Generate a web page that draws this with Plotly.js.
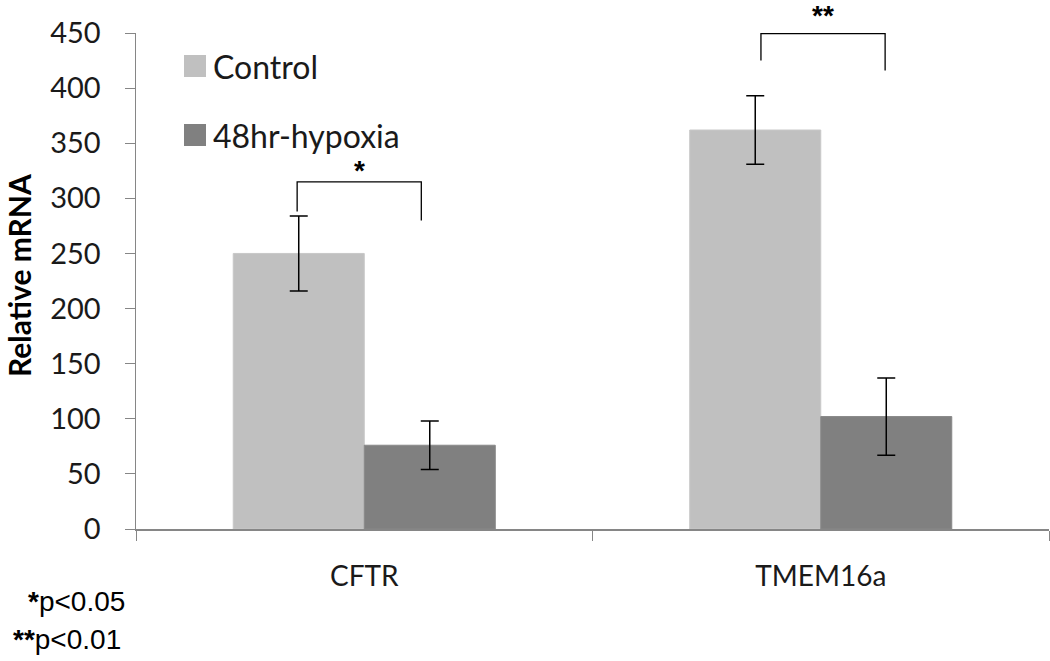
<!DOCTYPE html>
<html>
<head>
<meta charset="utf-8">
<script src="https://cdn.plot.ly/plotly-3.0.1.min.js"></script>
<style>html,body{margin:0;padding:0;background:#fff;}#chart{width:1050px;height:661px;}</style>
</head>
<body>
<div id="chart"></div>
<script>
const categories = ["CFTR", "TMEM16a"];
const seriesNames = ["Control", "48hr-hypoxia"];
const controlValues = [250, 362];
const controlErrors = [34, 31];
const hypoxiaValues = [76, 102];
const hypoxiaErrors = [22, 35];
const significance = ["*", "**"];
const yTicks = [0, 50, 100, 150, 200, 250, 300, 350, 400, 450];
const colors = ["#c0c0c0", "#808080"];
const footStars = ["*", "**"];
const footTexts = ["p&lt;0.05", "p&lt;0.01"];

const FONT = "Lato, 'Noto Sans', sans-serif";
const ARIAL = "'Liberation Sans', Arial, sans-serif";

const errStyle = {type: "data", visible: true, color: "#000000", thickness: 1.5, width: 9};

const traces = [
  {type: "bar", name: seriesNames[0], x: categories, y: controlValues,
   marker: {color: colors[0], line: {color: "#c8c8c8", width: 1}},
   error_y: Object.assign({array: controlErrors}, errStyle), hoverinfo: "y"},
  {type: "bar", name: seriesNames[1], x: categories, y: hypoxiaValues,
   marker: {color: colors[1], line: {color: "#888888", width: 1}},
   error_y: Object.assign({array: hypoxiaErrors}, errStyle), hoverinfo: "y"}
];

// plot area in px: x 136..1049, y 33..529
const PL = 136, PW = 913, PT = 33, PH = 496;
const px2x = p => (p - PL) / PW;
const px2y = p => (PT + PH - p) / PH;

const shapes = [];
const annotations = [];

// brackets (category index offsets in data units)
const brackets = [
  {cat: 0, left: -0.147, right: 0.125, top: 315, leftEnd: 288, rightEnd: 280, shift: -6},
  {cat: 1, left: -0.131, right: 0.141, top: 449.5, leftEnd: 425, rightEnd: 416, shift: 1}
];
brackets.forEach((b, i) => {
  const xl = b.cat + b.left, xr = b.cat + b.right;
  shapes.push({type: "path", xref: "x", yref: "y",
    path: `M${xl},${b.leftEnd} L${xl},${b.top} L${xr},${b.top} L${xr},${b.rightEnd}`,
    line: {color: "#000000", width: 1.3}});
  annotations.push({xref: "x", yref: "y", x: (xl + xr) / 2, y: b.top,
    yanchor: "bottom", yshift: b.shift, text: "<b>" + significance[i] + "</b>", showarrow: false,
    font: {family: ARIAL, size: 28, color: "#000"}});
});

// custom legend
const legendRows = [66, 135];
seriesNames.forEach((n, i) => {
  shapes.push({type: "rect", xref: "paper", yref: "paper",
    x0: px2x(184), x1: px2x(206), y0: px2y(legendRows[i] + 11), y1: px2y(legendRows[i] - 11),
    fillcolor: colors[i], line: {width: 0}});
  annotations.push({xref: "paper", yref: "paper", x: px2x(211), y: px2y(legendRows[i]),
    xanchor: "left", yanchor: "middle", text: n, showarrow: false,
    font: {family: FONT, size: 32, color: "#1a1a1a"}});
});

// footnotes
const footY = [601, 639];
const footX = [26, 11];
footTexts.forEach((t, i) => {
  annotations.push({xref: "paper", yref: "paper", x: px2x(footX[i]), y: px2y(footY[i]),
    xanchor: "left", yanchor: "middle", text: "<b>" + footStars[i] + "</b>" + t, showarrow: false,
    font: {family: ARIAL, size: 28, color: "#000"}});
});

// y-axis title
annotations.push({xref: "paper", yref: "paper", x: px2x(19), y: px2y(276),
  xanchor: "center", yanchor: "middle", textangle: -90, showarrow: false, borderpad: 0,
  text: "<b>Relative mRNA</b>", font: {family: FONT, size: 30, color: "#000"}});

const layout = {
  width: 1050, height: 661,
  margin: {l: PL, r: 1050 - PL - PW, t: PT, b: 661 - PT - PH, pad: 0},
  paper_bgcolor: "#ffffff", plot_bgcolor: "#ffffff",
  showlegend: false,
  barmode: "group", bargap: 0.426, bargroupgap: 0,
  font: {family: FONT, size: 29, color: "#1a1a1a"},
  xaxis: {type: "category", showline: true, linecolor: "#868686", linewidth: 1.5,
    ticks: "outside", tickson: "boundaries", ticklen: 10, tickcolor: "#868686", tickwidth: 1,
    ticklabelstandoff: 22, tickfont: {family: FONT, size: 28, color: "#1a1a1a"},
    showgrid: false, zeroline: false, range: [-0.5, 1.5]},
  yaxis: {range: [0, 450], tickvals: yTicks, ticktext: yTicks.map(String),
    showline: true, linecolor: "#868686", linewidth: 1.5,
    ticks: "outside", ticklen: 10, tickcolor: "#868686", tickwidth: 1,
    ticklabelstandoff: 18, tickfont: {family: FONT, size: 29, color: "#1a1a1a"},
    showgrid: false, zeroline: false},
  shapes: shapes, annotations: annotations
};

Plotly.newPlot("chart", traces, layout, {displayModeBar: false, staticPlot: true});
</script>
</body>
</html>
